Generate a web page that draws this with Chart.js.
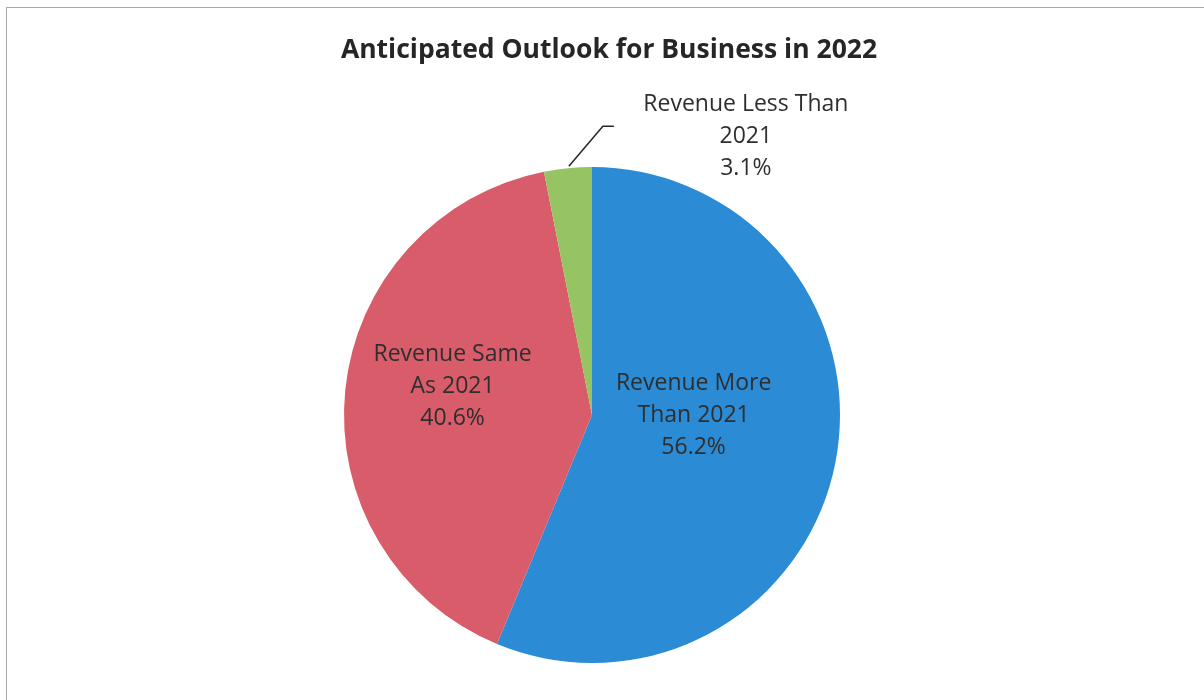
<!DOCTYPE html>
<html>
<head>
<meta charset="utf-8">
<script src="https://cdn.jsdelivr.net/npm/chart.js@4.4.1/dist/chart.umd.min.js"></script>
<style>
  html, body { margin: 0; padding: 0; background: #fff; overflow: hidden; }
  #wrap { position: relative; width: 1204px; height: 700px; }
  #frame { position: absolute; left: 6px; top: 7px; width: 1400px; height: 900px; border: 1px solid #a8a8a8; }
  #titulo { position: absolute; left: 0; top: 30px; width: 1218px; text-align: center;
            font-family: "Open Sans", sans-serif; font-weight: bold; font-size: 26.5px; color: #262626; line-height: 36px; }
  canvas { position: absolute; left: 0; top: 0; }
</style>
</head>
<body>
<div id="wrap">
  <div id="frame"></div>
  <canvas id="pie-chart" width="1204" height="700"></canvas>
  <div id="titulo">Anticipated Outlook for Business in 2022</div>
</div>
<script>
// Datos del gráfico
const categorias = ['Revenue More Than 2021', 'Revenue Same As 2021', 'Revenue Less Than 2021'];
const valores = [56.2, 40.6, 3.1];
const etiquetas = [
  ['Revenue More', 'Than 2021', '56.2%'],
  ['Revenue Same', 'As 2021', '40.6%'],
  ['Revenue Less Than', '2021', '3.1%']
];
const colores = ['#2b8bd5', '#d95c6b', '#97c462'];

// Plugin para dibujar las etiquetas de datos
const etiquetasPlugin = {
  id: 'etiquetasPie',
  afterDatasetsDraw(chart) {
    const ctx = chart.ctx;
    const meta = chart.getDatasetMeta(0);
    ctx.save();
    ctx.font = '23px "Open Sans", sans-serif';
    ctx.fillStyle = '#2e2e2e';
    ctx.textAlign = 'center';
    ctx.textBaseline = 'middle';
    const lh = 32;

    meta.data.forEach((arc, i) => {
      const p = arc.getProps(['x', 'y', 'startAngle', 'endAngle', 'outerRadius'], true);
      const mid = (p.startAngle + p.endAngle) / 2;
      let cx, cy;
      if (i === 2) {
        // etiqueta exterior con línea guía
        const sx = p.x + Math.cos(mid) * p.outerRadius;
        const sy = p.y + Math.sin(mid) * p.outerRadius;
        ctx.strokeStyle = '#262626';
        ctx.lineWidth = 1.5;
        ctx.beginPath();
        ctx.moveTo(sx + 1, sy - 2);
        ctx.lineTo(sx + 35, sy - 42);
        ctx.lineTo(sx + 46, sy - 42);
        ctx.stroke();
        cx = sx + 178;
        cy = sy - 32;
      } else {
        const pos = arc.tooltipPosition();
        const ajuste = i === 0 ? [-20, -24] : [-16, -16];
        cx = pos.x + ajuste[0];
        cy = pos.y + ajuste[1];
      }
      etiquetas[i].forEach((linea, k) => {
        ctx.fillText(linea, cx, cy + (k - 1) * lh);
      });
    });
    ctx.restore();
  }
};

const ctx = document.getElementById('pie-chart').getContext('2d');
const GraficoPie = new Chart(ctx, {
  type: 'pie',
  data: {
    labels: categorias,
    datasets: [{
      data: valores,
      backgroundColor: colores,
      borderWidth: 0
    }]
  },
  options: {
    responsive: false,
    animation: false,
    layout: { padding: { top: 167, bottom: 37, left: 344, right: 364 } },
    plugins: {
      legend: { display: false },
      title: { display: false },
      tooltip: { enabled: false }
    }
  },
  plugins: [etiquetasPlugin]
});
</script>
</body>
</html>
